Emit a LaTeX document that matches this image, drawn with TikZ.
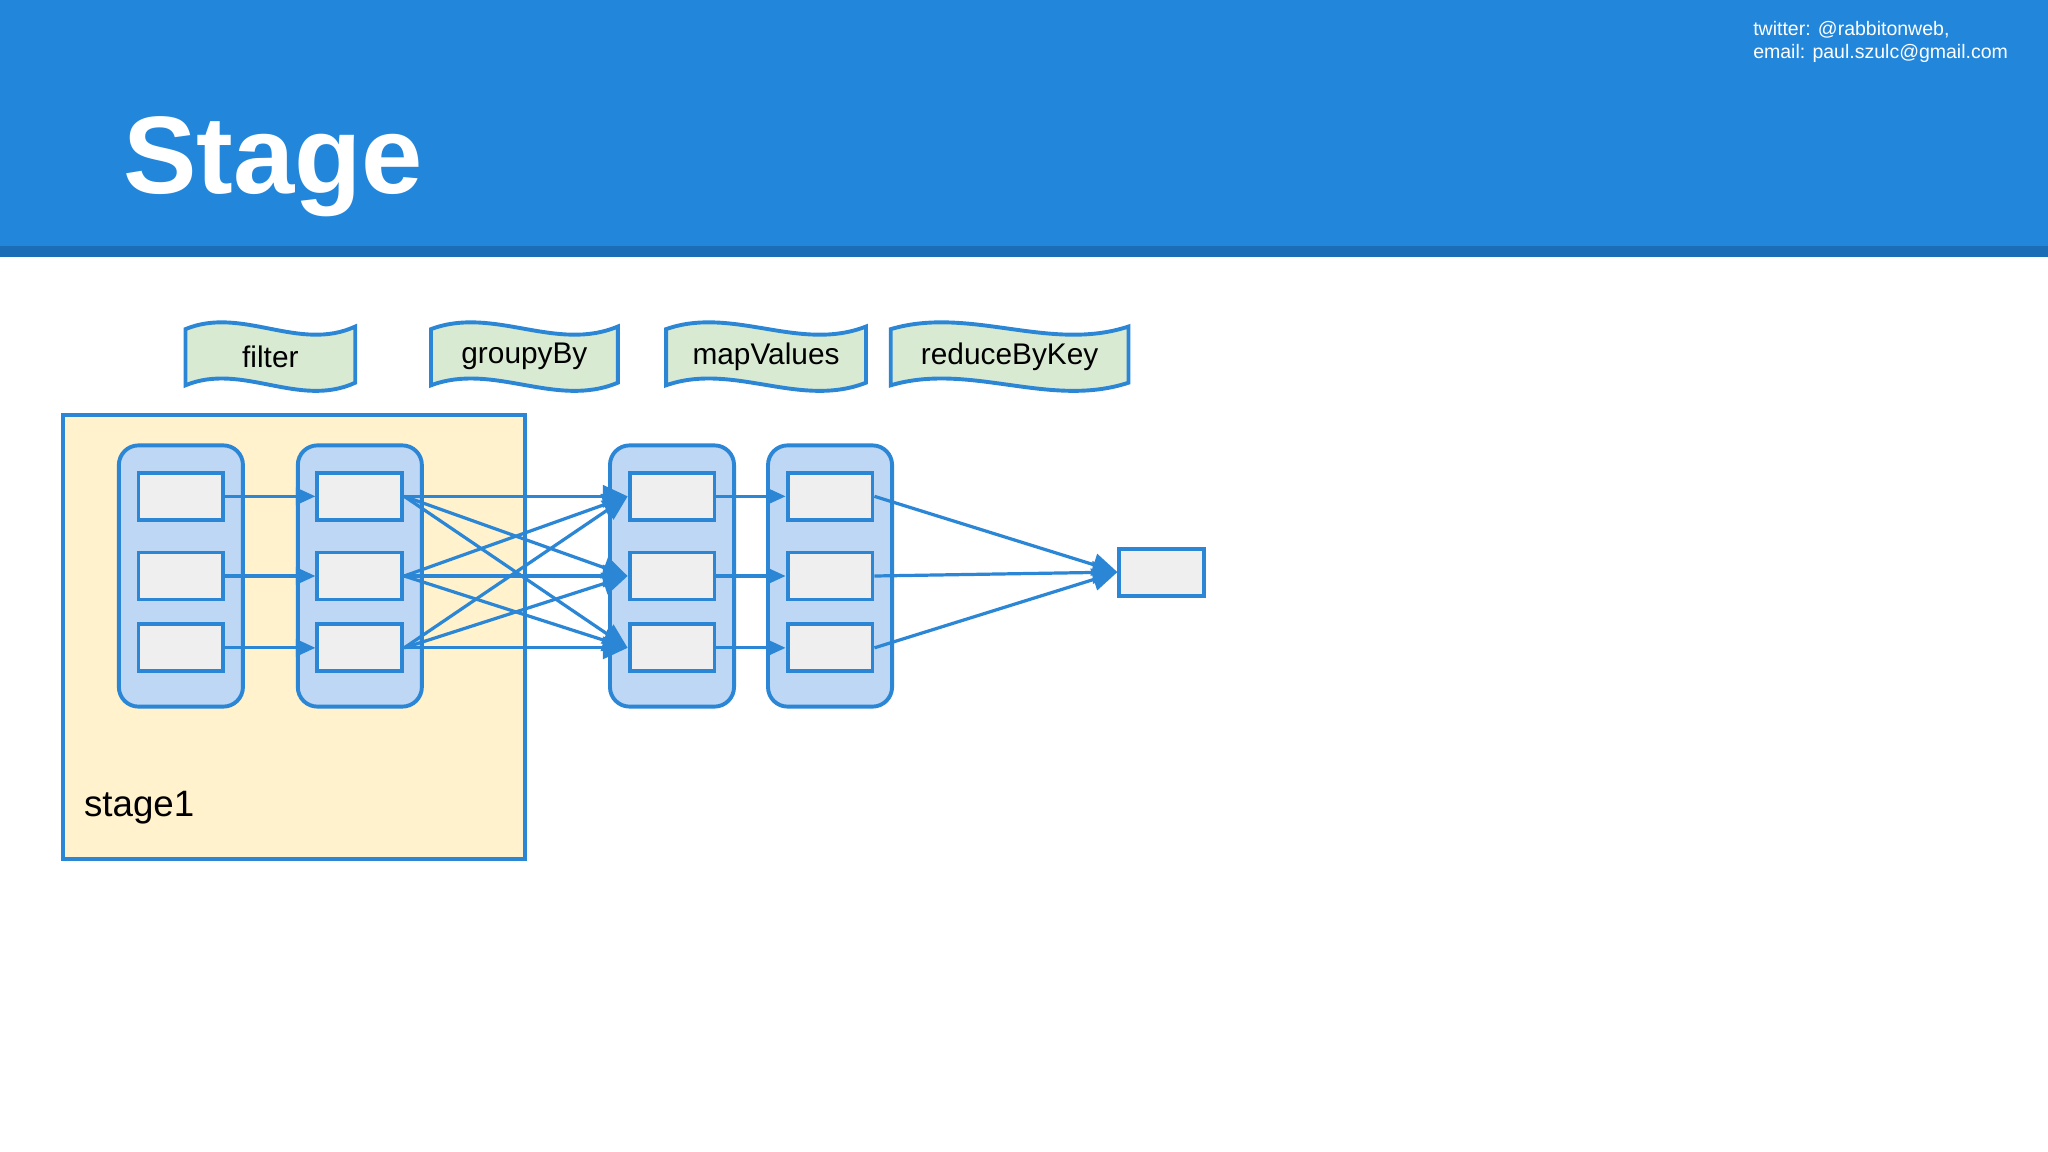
\documentclass[tikz,border=0pt]{standalone}
\usepackage{fontspec}
\setmainfont{Liberation Sans}
\usetikzlibrary{arrows.meta}
\definecolor{hdr}{HTML}{2287DB}
\definecolor{hdrd}{HTML}{1B6DB5}
\definecolor{ln}{HTML}{2B86D6}
\definecolor{grn}{HTML}{D9EAD3}
\definecolor{ylw}{HTML}{FFF2CC}
\definecolor{col}{HTML}{BDD7F5}
\definecolor{cell}{HTML}{EFEFEF}
\tikzset{
  cell/.style={draw=ln,fill=cell,line width=1.7pt,minimum width=1.3cm,minimum height=0.72cm,inner sep=0pt},
  colm/.style={draw=ln,fill=col,line width=1.7pt,rounded corners=0.3cm},
  ar/.style={draw=ln,line width=1.4pt,-{Triangle[length=0.3cm,width=0.26cm]}},
  arb/.style={draw=ln,line width=1.4pt,-{Triangle[length=0.38cm,width=0.34cm]}},
  ban/.style={draw=ln,fill=grn,line width=1.7pt},
  btxt/.style={font=\fontsize{13}{15}\selectfont,inner sep=0pt}
}
\newcommand\mybanner[4]{% x1 x2 name text
  \draw[ban] (#1,252) .. controls ({#1+(#2-#1)/3},234) and ({#1+2*(#2-#1)/3},270) .. (#2,250)
    -- (#2,293) .. controls ({#1+2*(#2-#1)/3},313) and ({#1+(#2-#1)/3},277) .. (#1,295) -- cycle;
  \node[btxt] (#3) at ({(#1+#2)/2},273) {#4};}
\begin{document}
\begin{tikzpicture}[x=0.02cm,y=-0.02cm]
\useasboundingbox (0,0) rectangle (1568,882);
\fill[white] (0,0) rectangle (1568,882);
\fill[hdr] (0,0) rectangle (1568,190);
\fill[hdrd] (0,188) rectangle (1568,197);
\node[anchor=base west,text=white,font=\bfseries\fontsize{48}{50}\selectfont,inner sep=0pt] (title) at (94,148) {Stage};
\node[anchor=north west,text=white,font=\fontsize{8.5}{10.2}\selectfont,align=left,inner sep=0pt] (contact) at (1342,16) {twitter: @rabbitonweb,\\email: paul.szulc@gmail.com};
\mybanner{142}{272}{b1}{filter}
\mybanner{330}{473}{b2}{groupyBy}
\mybanner{510}{663}{b3}{mapValues}
\mybanner{682}{864}{b4}{reduceByKey}
\draw[draw=ln,fill=ylw,line width=1.7pt] (48,318) rectangle (402,658);
\node[anchor=base west,font=\fontsize{16}{18}\selectfont,inner sep=0pt] (st) at (64,625) {stage1};
\foreach \i/\x in {1/91,2/228,3/467,4/588}{
  \draw[colm] (\x,341) rectangle (\x+95,541);
  \foreach \j/\y in {1/380,2/441,3/496}{
    \node[cell] (r\i\j) at (\x+47.5,\y) {};
  }
}
\node[cell] (f) at (889.5,438) {};
\foreach \j in {1,2,3}{
  \draw[ar] (r1\j) -- (r2\j);
  \draw[ar] (r3\j) -- (r4\j);
  \draw[arb] (r4\j.east) -- (f.west);
  \foreach \k in {1,2,3}{
    \draw[arb] (r2\j.east) -- (r3\k.west);
  }
}
\end{tikzpicture}
\end{document}
